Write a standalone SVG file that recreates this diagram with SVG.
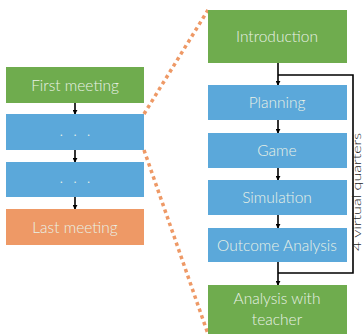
<svg xmlns="http://www.w3.org/2000/svg" width="364" height="334" viewBox="0 0 364 334">
<style>
.g{fill:#6fac4e}
.b{fill:#5ba8da}
.o{fill:#ee9966}
.t{font-family:"Lato","Liberation Sans",sans-serif;font-size:15.5px;fill:#e9f1e6;text-anchor:middle;font-weight:300}
.ln{stroke:#000;stroke-width:1.6;fill:none}
.dot{stroke:#ee9966;stroke-width:3.5;stroke-dasharray:3.5 3.5;fill:none}
</style>
<defs>
<marker id="ah" viewBox="0 0 6 6" refX="5" refY="3" markerWidth="5" markerHeight="5" orient="auto" markerUnits="userSpaceOnUse">
<path d="M0,0 L6,3 L0,6 z" fill="#000"/>
</marker>
</defs>
<rect width="364" height="334" fill="#fff"/>
<g id="connectors">
<line class="dot" x1="144" y1="114" x2="208" y2="10"/>
<line class="dot" x1="144" y1="150" x2="208" y2="334"/>
<line class="ln" x1="75" y1="103" x2="75" y2="114" marker-end="url(#ah)"/>
<line class="ln" x1="75" y1="150" x2="75" y2="162" marker-end="url(#ah)"/>
<line class="ln" x1="75" y1="197" x2="75" y2="209" marker-end="url(#ah)"/>
<line class="ln" x1="278" y1="63" x2="278" y2="85" marker-end="url(#ah)"/>
<line class="ln" x1="278" y1="120" x2="278" y2="133" marker-end="url(#ah)"/>
<line class="ln" x1="278" y1="168" x2="278" y2="180" marker-end="url(#ah)"/>
<line class="ln" x1="278" y1="215" x2="278" y2="228" marker-end="url(#ah)"/>
<line class="ln" x1="278" y1="262" x2="278" y2="285" marker-end="url(#ah)"/>
<polyline class="ln" points="278,75 353,75 353,273 278,273"/>
</g>
<g id="first-meeting"><rect class="g" x="6" y="67" width="138" height="36"/><text class="t" x="75" y="90.5">First meeting</text></g>
<g id="dots1"><rect class="b" x="6" y="114" width="138" height="36"/><text class="t" x="80" y="136" letter-spacing="10">...</text></g>
<g id="dots2"><rect class="b" x="6" y="162" width="138" height="35"/><text class="t" x="80" y="183" letter-spacing="10">...</text></g>
<g id="last-meeting"><rect class="o" x="6" y="209" width="138" height="36"/><text class="t" x="75" y="232.5">Last meeting</text></g>
<g id="introduction"><rect class="g" x="208" y="10" width="139" height="53"/><text class="t" x="277" y="42">Introduction</text></g>
<g id="planning"><rect class="b" x="208" y="85" width="139" height="35"/><text class="t" x="277" y="108">Planning</text></g>
<g id="game"><rect class="b" x="208" y="133" width="139" height="35"/><text class="t" x="277" y="156">Game</text></g>
<g id="simulation"><rect class="b" x="208" y="180" width="139" height="35"/><text class="t" x="277" y="203">Simulation</text></g>
<g id="outcome-analysis"><rect class="b" x="208" y="228" width="139" height="34"/><text class="t" x="277" y="250.5">Outcome Analysis</text></g>
<g id="analysis-teacher"><rect class="g" x="208" y="285" width="139" height="49"/><text class="t" x="277" y="304">Analysis with</text><text class="t" x="277" y="325">teacher</text></g>
<g id="label"><text x="360.5" y="192" transform="rotate(-90 360.5 192)" textLength="118" lengthAdjust="spacingAndGlyphs" style="font-family:'Lato','Liberation Sans',sans-serif;font-size:12.5px;fill:#222;text-anchor:middle;font-weight:300">4 virtual quarters</text></g>
</svg>
